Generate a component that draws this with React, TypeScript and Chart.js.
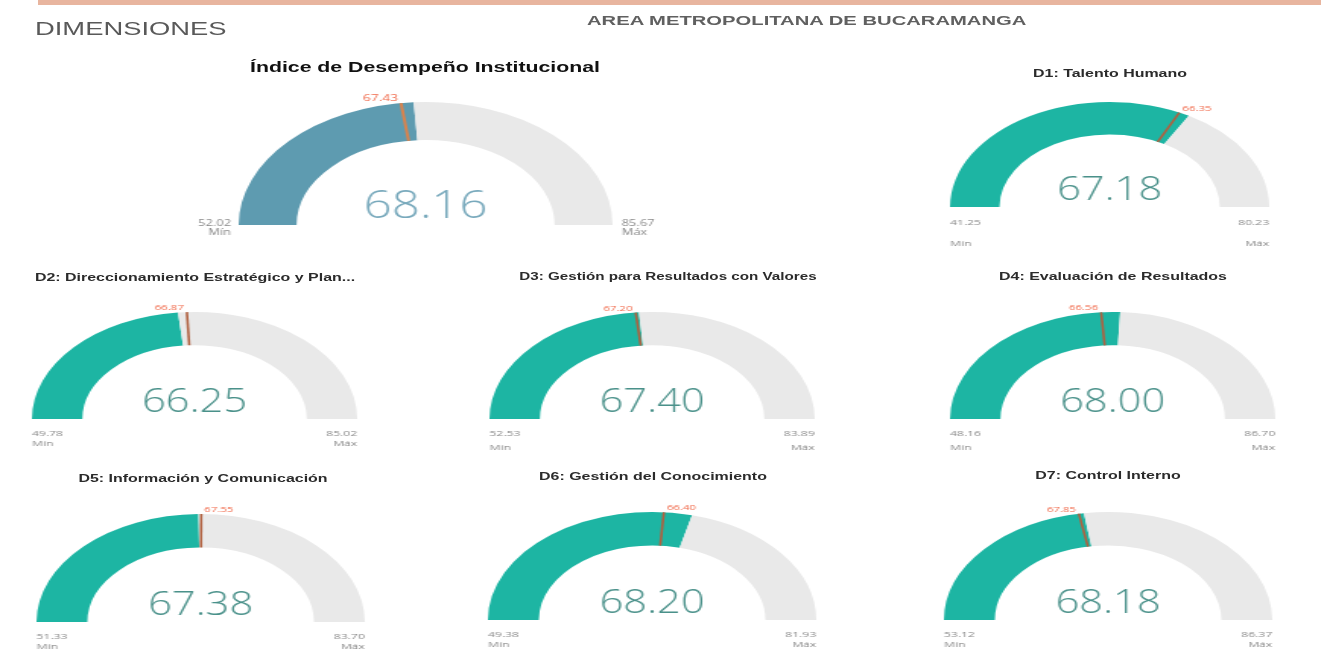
import React, { useEffect, useRef } from "react";
import { Chart, registerables } from "chart.js";

Chart.register(...registerables);

// ---------------- DATA ----------------
const GAUGE_TITLES = [
  "Índice de Desempeño Institucional",
  "D1: Talento Humano",
  "D2: Direccionamiento Estratégico y Plan...",
  "D3: Gestión para Resultados con Valores",
  "D4: Evaluación de Resultados",
  "D5: Información y Comunicación",
  "D6: Gestión del Conocimiento",
  "D7: Control Interno",
];
const GAUGE_VALUES = [68.16, 67.18, 66.25, 67.4, 68.0, 67.38, 68.2, 68.18];
const GAUGE_MINS = [52.02, 41.25, 49.78, 52.53, 48.16, 51.33, 49.38, 53.12];
const GAUGE_MAXS = [85.67, 80.23, 85.02, 83.89, 86.7, 83.7, 81.93, 86.37];
const GAUGE_TARGETS = [67.43, 66.35, 66.87, 67.2, 66.56, 67.55, 66.4, 67.85];
const MIN_LABEL = "Mín";
const MAX_LABEL = "Máx";
const PAGE_TITLE = "DIMENSIONES";
const PAGE_SUBTITLE = "AREA METROPOLITANA DE BUCARAMANGA";

// ---------------- LAYOUT / STYLE ----------------
const S = 1.52; // horizontal stretch of the whole dashboard
const W = 1321;
const H = 650;

type Layout = {
  cx: number; base: number; r: number;
  tx: number; ty: number; tsize: number;
  vsize: number; lsize: number; tlsize: number;
  side: boolean; numDy: number; capDy: number;
  fill: string; valColor: string; tick: string; tcolor: string;
};

const TEAL = "#1db5a3";
const LAYOUT: Layout[] = [
  { cx: 425, base: 225, r: 123, tx: 425, ty: 67, tsize: 14, vsize: 39, lsize: 8.5, tlsize: 9, side: true, numDy: 1, capDy: 10, fill: "#5e9bb0", valColor: "#78a9bc", tick: "#d9834d", tcolor: "#f0694a" },
  { cx: 1110, base: 207, r: 105, tx: 1110, ty: 73, tsize: 10.5, vsize: 33, lsize: 8, tlsize: 7.5, side: false, numDy: 18, capDy: 39, fill: TEAL, valColor: "#4a918a", tick: "#b0603f", tcolor: "#f0694a" },
  { cx: 195, base: 419, r: 107, tx: 195, ty: 277, tsize: 10.5, vsize: 33, lsize: 8, tlsize: 7.5, side: false, numDy: 17, capDy: 27, fill: TEAL, valColor: "#4a918a", tick: "#b0603f", tcolor: "#f0694a" },
  { cx: 652, base: 419, r: 107, tx: 668, ty: 277, tsize: 10, vsize: 33, lsize: 8, tlsize: 7.5, side: false, numDy: 17, capDy: 31, fill: TEAL, valColor: "#4a918a", tick: "#b0603f", tcolor: "#f0694a" },
  { cx: 1113, base: 419, r: 107, tx: 1113, ty: 276, tsize: 10.5, vsize: 33, lsize: 8, tlsize: 7.5, side: false, numDy: 17, capDy: 31, fill: TEAL, valColor: "#4a918a", tick: "#b0603f", tcolor: "#f0694a" },
  { cx: 201, base: 622, r: 108, tx: 203, ty: 478, tsize: 10.5, vsize: 33, lsize: 8, tlsize: 7.5, side: false, numDy: 17, capDy: 27, fill: TEAL, valColor: "#4a918a", tick: "#b0603f", tcolor: "#f0694a" },
  { cx: 652, base: 620, r: 108, tx: 653, ty: 476, tsize: 10.5, vsize: 33, lsize: 8, tlsize: 7.5, side: false, numDy: 17, capDy: 27, fill: TEAL, valColor: "#4a918a", tick: "#b0603f", tcolor: "#f0694a" },
  { cx: 1108, base: 620, r: 108, tx: 1108, ty: 475, tsize: 10.5, vsize: 33, lsize: 8, tlsize: 7.5, side: false, numDy: 17, capDy: 27, fill: TEAL, valColor: "#4a918a", tick: "#b0603f", tcolor: "#f0694a" },
];

const PAD_X = 40;
const PAD_T = 14;
const PAD_B = 46;
const VALUE_SQUEEZE = 0.83;
const LABEL_FONT = '"Open Sans", "DejaVu Sans", sans-serif';

function txt(
  ctx: CanvasRenderingContext2D, s: string, x: number, y: number,
  font: string, color: string, align: CanvasTextAlign, sq = 1
) {
  ctx.save();
  ctx.font = font;
  ctx.fillStyle = color;
  ctx.textAlign = align;
  ctx.textBaseline = "alphabetic";
  ctx.translate(x, y);
  ctx.scale(sq, 1);
  ctx.fillText(s, 0, 0);
  ctx.restore();
}

function Gauge({ i }: { i: number }) {
  const ref = useRef<HTMLCanvasElement | null>(null);
  const L = LAYOUT[i];
  const cw = 2 * L.r + 2 * PAD_X;
  const ch = L.r + PAD_T + PAD_B;

  useEffect(() => {
    const value = GAUGE_VALUES[i];
    const min = GAUGE_MINS[i];
    const max = GAUGE_MAXS[i];
    const target = GAUGE_TARGETS[i];

    const plugin = {
      id: "gaugeDecor" + i,
      afterDatasetsDraw(chart: any) {
        const ctx: CanvasRenderingContext2D = chart.ctx;
        const arc: any = chart.getDatasetMeta(0).data[0];
        if (!arc) return;
        const { x, y, outerRadius: ro, innerRadius: ri } = arc;
        // target marker
        const frac = (target - min) / (max - min);
        const ang = Math.PI + frac * Math.PI;
        const c = Math.cos(ang);
        const s = Math.sin(ang);
        ctx.save();
        ctx.strokeStyle = L.tick;
        ctx.lineWidth = i === 0 ? 2 : 1.6;
        ctx.beginPath();
        ctx.moveTo(x + ri * c, y + ri * s);
        ctx.lineTo(x + ro * c, y + ro * s);
        ctx.stroke();
        ctx.restore();
        const ox = x + ro * c;
        const oy = y + ro * s;
        const tfont = `${L.tlsize}px ${LABEL_FONT}`;
        if (c < -0.01) txt(ctx, target.toFixed(2), ox - 2, oy - 2, tfont, L.tcolor, "right");
        else txt(ctx, target.toFixed(2), ox + 2, oy - 2, tfont, L.tcolor, "left");

        // central value
        txt(ctx, value.toFixed(2), x, y - 7, `300 ${L.vsize}px "Open Sans", sans-serif`, L.valColor, "center", VALUE_SQUEEZE);

        // min / max
        const lfont = `${L.lsize}px ${LABEL_FONT}`;
        const gray = "#8a8a8a";
        if (L.side) {
          txt(ctx, min.toFixed(2), x - ro - 5, y + L.numDy, lfont, gray, "right");
          txt(ctx, MIN_LABEL, x - ro - 5, y + L.capDy, lfont, gray, "right");
          txt(ctx, max.toFixed(2), x + ro + 6, y + L.numDy, lfont, gray, "left");
          txt(ctx, MAX_LABEL, x + ro + 6, y + L.capDy, lfont, gray, "left");
        } else {
          txt(ctx, min.toFixed(2), x - ro, y + L.numDy, lfont, gray, "left");
          txt(ctx, MIN_LABEL, x - ro, y + L.capDy, lfont, gray, "left");
          txt(ctx, max.toFixed(2), x + ro, y + L.numDy, lfont, gray, "right");
          txt(ctx, MAX_LABEL, x + ro, y + L.capDy, lfont, gray, "right");
        }
      },
    };

    const chart = new Chart(ref.current as HTMLCanvasElement, {
      type: "doughnut",
      data: {
        labels: ["Valor", "Resto"],
        datasets: [
          {
            data: [value - min, max - value],
            backgroundColor: [L.fill, "#e9e9e9"],
            borderWidth: 0,
          },
        ],
      },
      options: {
        responsive: false,
        animation: false,
        events: [],
        rotation: -90,
        circumference: 180,
        cutout: "69%",
        layout: { padding: { left: PAD_X, right: PAD_X, top: PAD_T, bottom: PAD_B } },
        plugins: { legend: { display: false }, tooltip: { enabled: false }, title: { display: false } },
      } as any,
      plugins: [plugin as any],
    });
    return () => chart.destroy();
  }, [i]);

  return (
    <>
      <div
        style={{
          position: "absolute",
          left: L.tx / S,
          top: L.ty - L.tsize * 0.6,
          transform: "translateX(-50%)",
          whiteSpace: "nowrap",
          fontFamily: '"Liberation Sans", Arial, sans-serif',
          fontWeight: 700,
          fontSize: L.tsize,
          lineHeight: 1.2,
          color: i === 0 ? "#111" : "#2b2b2b",
        }}
      >
        {GAUGE_TITLES[i]}
      </div>
      <canvas
        ref={ref}
        width={cw}
        height={ch}
        style={{
          position: "absolute",
          left: L.cx / S - L.r - PAD_X,
          top: L.base - L.r - PAD_T,
          width: cw,
          height: ch,
        }}
      />
    </>
  );
}

export default function App() {
  return (
    <div
      style={{
        position: "absolute",
        left: 0,
        top: 0,
        width: W,
        height: H,
        overflow: "hidden",
        background: "#ffffff",
      }}
    >
      <div style={{ position: "absolute", left: 38, top: 0, width: W - 38, height: 5, background: "#e8b59f" }} />
      <div
        style={{
          position: "absolute",
          left: 0,
          top: 0,
          width: W / S,
          height: H,
          transform: `scaleX(${S})`,
          transformOrigin: "0 0",
        }}
      >
        <div
          style={{
            position: "absolute",
            left: 35 / S,
            top: 19,
            fontFamily: '"Liberation Sans", Arial, sans-serif',
            fontSize: 18,
            lineHeight: 1.2,
            color: "#595959",
            whiteSpace: "nowrap",
          }}
        >
          {PAGE_TITLE}
        </div>
        <div
          style={{
            position: "absolute",
            left: 587 / S,
            top: 13,
            fontFamily: '"Liberation Sans", Arial, sans-serif',
            fontSize: 13.3,
            fontWeight: 700,
            lineHeight: 1.2,
            color: "#606060",
            whiteSpace: "nowrap",
          }}
        >
          {PAGE_SUBTITLE}
        </div>
        {GAUGE_TITLES.map((_, i) => (
          <Gauge key={i} i={i} />
        ))}
      </div>
    </div>
  );
}
